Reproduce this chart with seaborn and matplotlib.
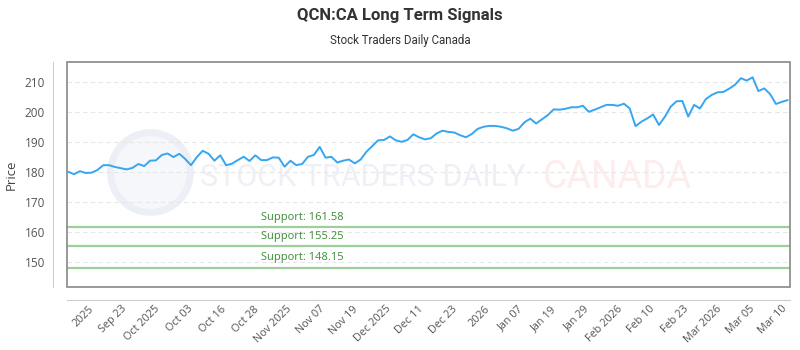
import numpy as np
import pandas as pd
import matplotlib
matplotlib.use("Agg")
import matplotlib.pyplot as plt
from matplotlib.patches import Rectangle
import seaborn as sns

# цены закрытия (по торговым дням)
prices = [180.1, 179.3, 180.3, 179.7, 179.8, 180.7, 182.3, 182.3, 181.7, 181.3,
          180.9, 181.4, 182.7, 182.0, 183.8, 183.9, 185.7, 186.2, 185.0, 186.1,
          184.4, 182.3, 185.0, 187.1, 186.1, 183.8, 185.6, 182.3, 182.8, 184.0,
          185.1, 183.7, 185.6, 184.0, 184.0, 184.9, 184.8, 181.8, 183.8, 182.3,
          182.7, 185.1, 185.7, 188.4, 184.8, 185.1, 183.2, 183.8, 184.2, 182.9,
          184.2, 186.8, 188.7, 190.6, 190.7, 191.9, 190.6, 190.1,
          190.7, 192.6, 191.6, 190.9, 191.3, 192.9, 193.8, 193.4, 193.2, 192.3,
          191.6, 192.7, 194.4, 195.1, 195.4, 195.4, 195.1, 194.6, 193.8, 194.4,
          196.6, 197.8, 196.2, 197.6, 199.0, 200.9, 200.8, 201.1, 201.6, 201.6,
          202.1, 200.1, 200.8, 201.6, 202.4, 202.4, 202.1, 202.8, 201.2, 195.3,
          196.8, 197.9, 199.2, 195.7, 198.4, 201.8, 203.6, 203.7, 198.5, 202.4,
          201.2, 204.3, 205.7, 206.6, 206.7, 207.8, 209.1, 211.3, 210.5, 211.6,
          207.0, 207.9, 206.0, 202.7, 203.4, 204.0]

tick_labels = ['2025', 'Sep 23', 'Oct 2025', 'Oct 03', 'Oct 16', 'Oct 28',
               'Nov 2025', 'Nov 07', 'Nov 19', 'Dec 2025', 'Dec 11', 'Dec 23',
               '2026', 'Jan 07', 'Jan 19', 'Jan 29', 'Feb 2026', 'Feb 10',
               'Feb 23', 'Mar 2026', 'Mar 05', 'Mar 10']

support_levels = [161.58, 155.25, 148.15]
support_labels = ['Support: 161.58', 'Support: 155.25', 'Support: 148.15']

df = pd.DataFrame({'day': np.arange(len(prices)), 'price': prices})

sns.set_style("white")
plt.rcParams['font.family'] = ['Open Sans', 'DejaVu Sans']

fig = plt.figure(figsize=(8, 3.5), dpi=100)
ax = fig.add_axes([0.08375, 0.18, 0.90375, 0.6429])

# оси (до настройки подписей - set_position сбрасывает тики)
for side in ['top', 'right']:
    ax.spines[side].set_visible(False)
ax.spines['left'].set_position(('outward', 10))
ax.spines['bottom'].set_position(('outward', 9))
ax.spines['left'].set_color('#cccccc')
ax.spines['bottom'].set_color('#cccccc')

# водяной знак
ax.scatter([14], [180], s=3300, facecolor='#f6f7fb', edgecolor='#eceff6',
           linewidth=5, zorder=0)
ax.text(22.6, 178.3, 'STOCK TRADERS DAILY', fontsize=22, color='#eef0f6',
        family='Roboto', va='center', ha='left', zorder=0)
ax.text(81.2, 178.3, 'CANADA', fontsize=27, color='#fdeded',
        family='Roboto', va='center', ha='left', zorder=0)

sns.lineplot(data=df, x='day', y='price', color='#35a6f2', linewidth=1.4,
             ax=ax, zorder=3)

for level, label in zip(support_levels, support_labels):
    ax.axhline(level, color='#9dd098', linewidth=1.6, zorder=2)
    ax.annotate(label, xy=(33, level), xytext=(0, 3), textcoords='offset points',
                ha='left', va='bottom', fontsize=8, color='#3d8b37')

ax.set_xlim(-0.2, 123.4)
ax.set_ylim(141.7, 216.7)
ax.set_yticks([150, 160, 170, 180, 190, 200, 210])
ax.set_xticks(np.linspace(3.4, 122.0, len(tick_labels)))
ax.set_xticklabels(tick_labels)

ax.yaxis.grid(True, linestyle=(0, (4, 3)), color='#e6e6e6', linewidth=0.8)
ax.xaxis.grid(False)

ax.tick_params(axis='y', length=0, pad=6, labelsize=8.5, labelcolor='#555555')
ax.tick_params(axis='x', length=0, pad=3, labelsize=7.8, labelcolor='#555555')
plt.setp(ax.get_xticklabels(), rotation=45, ha='right', va='top',
         rotation_mode='anchor')

ax.set_xlabel('')
ax.set_ylabel('Price', fontsize=9.5, color='#444444', labelpad=5)

ax.add_patch(Rectangle((0, 0), 1, 1, transform=ax.transAxes, fill=False,
                       edgecolor='#888888', linewidth=1.2, zorder=5, clip_on=False))

fig.text(0.5, 0.955, 'QCN:CA Long Term Signals', ha='center', va='center',
         fontsize=12, fontweight='bold', color='#333333', family='Roboto')
fig.text(0.5, 0.885, 'Stock Traders Daily Canada', ha='center', va='center',
         fontsize=8.3, color='#333333', family='Roboto')

fig.savefig('out.png', dpi=100)
